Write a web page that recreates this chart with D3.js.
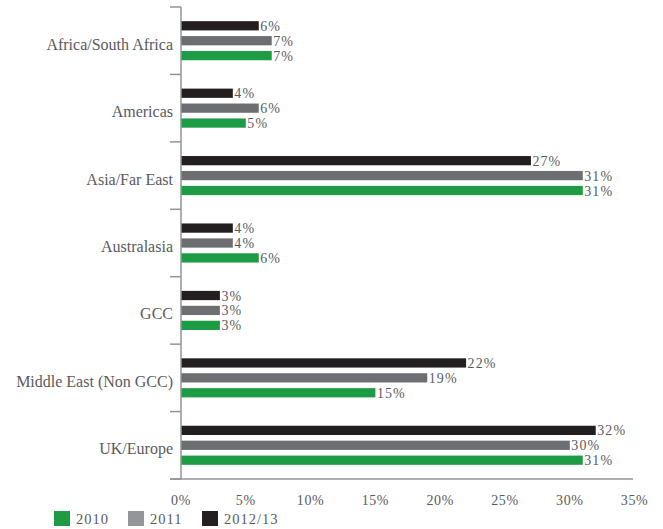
<!DOCTYPE html>
<html>
<head>
<meta charset="utf-8">
<script src="https://cdn.jsdelivr.net/npm/d3@7"></script>
<style>
  html, body { margin: 0; padding: 0; background: #fff; }
  svg { display: block; }
  text { font-family: "Liberation Serif", "DejaVu Serif", serif; fill: #5a5b5d; }
</style>
</head>
<body>
<svg id="chart" width="663" height="529"></svg>
<script>
// Regions, top to bottom
const categories = ["Africa/South Africa", "Americas", "Asia/Far East", "Australasia", "GCC", "Middle East (Non GCC)", "UK/Europe"];
// Series in drawing order within each region (top bar first)
const seriesNames = ["2012/13", "2011", "2010"];
const values2012 = [6, 4, 27, 4, 3, 22, 32];
const values2011 = [7, 6, 31, 4, 3, 19, 30];
const values2010 = [7, 5, 31, 6, 3, 15, 31];
const xTicks = [0, 5, 10, 15, 20, 25, 30, 35];
const legendOrder = ["2010", "2011", "2012/13"];

const barColors = { "2012/13": "#231f20", "2011": "#6d6e71", "2010": "#1d9c45" };
const legendColors = { "2012/13": "#231f20", "2011": "#939598", "2010": "#1d9c45" };

const seriesValues = { "2012/13": values2012, "2011": values2011, "2010": values2010 };

const svg = d3.select("#chart");
const plotLeft = 181, plotRight = 634.6, plotTop = 7, plotBottom = 479;

const x = d3.scaleLinear().domain([0, 35]).range([plotLeft, plotRight]);
const y = d3.scaleBand().domain(categories).range([plotTop, plotBottom]).paddingInner(0).paddingOuter(0);
const inner = d3.scaleBand().domain(seriesNames).range([0, y.bandwidth()]).paddingInner(0.38).paddingOuter(0.95);

// Bars and value labels
categories.forEach((cat, i) => {
  const g = svg.append("g").attr("transform", `translate(0,${y(cat)})`);
  seriesNames.forEach(s => {
    const v = seriesValues[s][i];
    g.append("rect")
      .attr("x", x(0))
      .attr("y", inner(s))
      .attr("width", x(v) - x(0))
      .attr("height", inner.bandwidth())
      .attr("fill", barColors[s]);
    g.append("text")
      .attr("x", x(v) + 1.5)
      .attr("y", inner(s) + inner.bandwidth() / 2)
      .attr("dy", "0.36em")
      .attr("font-size", 14)
      .attr("letter-spacing", 1.1)
      .text(v + "%");
  });
});

// Category axis (ticks at band boundaries)
const axisColor = "#939598";
svg.append("line")
  .attr("x1", plotLeft).attr("x2", plotLeft)
  .attr("y1", plotTop).attr("y2", plotBottom)
  .attr("stroke", axisColor).attr("stroke-width", 1.5);
const bounds = categories.map(c => y(c)).concat([plotBottom]);
svg.selectAll(".ytick").data(bounds).enter().append("line")
  .attr("x1", plotLeft - 11).attr("x2", plotLeft)
  .attr("y1", d => d).attr("y2", d => d)
  .attr("stroke", axisColor).attr("stroke-width", 1.5);
svg.selectAll(".ylab").data(categories).enter().append("text")
  .attr("x", plotLeft - 8)
  .attr("y", d => y(d) + y.bandwidth() / 2)
  .attr("dy", "0.56em")
  .attr("text-anchor", "end")
  .attr("font-size", 16)
  .text(d => d);

// Value axis
svg.append("line")
  .attr("x1", plotLeft - 11).attr("x2", 633)
  .attr("y1", plotBottom).attr("y2", plotBottom)
  .attr("stroke", axisColor).attr("stroke-width", 1.5);
svg.selectAll(".xlab").data(xTicks).enter().append("text")
  .attr("x", d => x(d))
  .attr("y", 505)
  .attr("text-anchor", "middle")
  .attr("font-size", 14)
  .attr("letter-spacing", 0.6)
  .text(d => d + "%");

// Legend
const legendX = [54, 128, 202];
legendOrder.forEach((s, i) => {
  svg.append("rect")
    .attr("x", legendX[i]).attr("y", 511)
    .attr("width", 16).attr("height", 15)
    .attr("fill", legendColors[s]);
  svg.append("text")
    .attr("x", legendX[i] + 22).attr("y", 523.5)
    .attr("font-size", 14.5)
    .attr("letter-spacing", 1)
    .text(s);
});
</script>
</body>
</html>
